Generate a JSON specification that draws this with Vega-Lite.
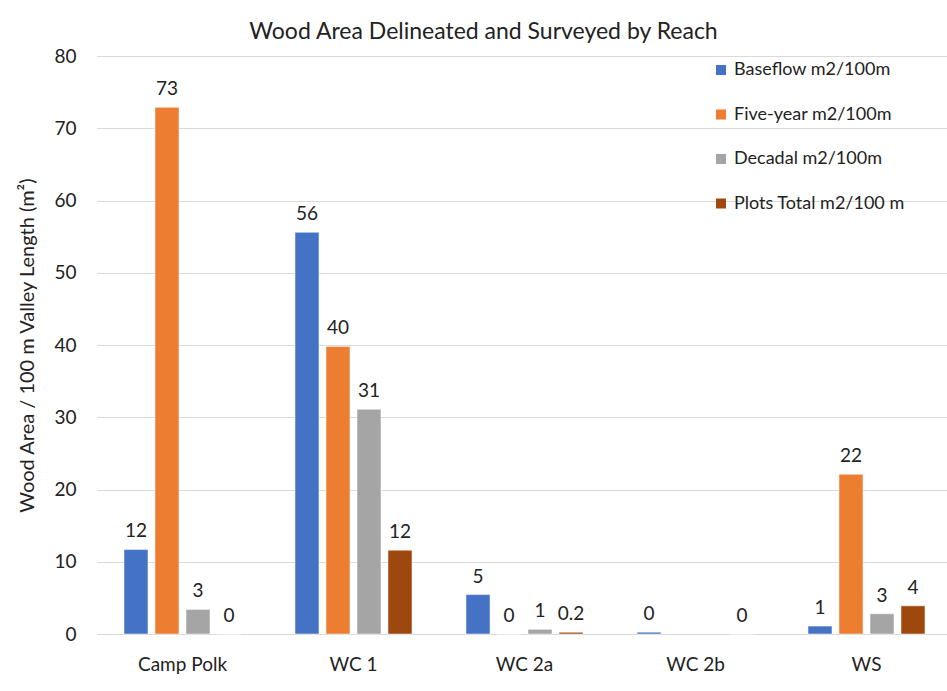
{
  "$schema": "https://vega.github.io/schema/vega-lite/v6.json",
  "autosize": {"type": "none"},
  "width": 855,
  "height": 578,
  "padding": {"left": 97, "top": 56, "right": 0, "bottom": 57},
  "background": "white",
  "title": {
    "text": "Wood Area Delineated and Surveyed by Reach",
    "anchor": "middle",
    "frame": "group",
    "dx": -41,
    "offset": 3,
    "font": "Lato",
    "fontSize": 23,
    "fontWeight": "normal",
    "color": "#222222"
  },
  "data": {
    "values": [
      {"reach": "Camp Polk", "series": "Baseflow m2/100m", "value": 11.7, "label": "12"},
      {"reach": "Camp Polk", "series": "Five-year m2/100m", "value": 72.9, "label": "73"},
      {"reach": "Camp Polk", "series": "Decadal m2/100m", "value": 3.4, "label": "3"},
      {"reach": "Camp Polk", "series": "Plots Total m2/100 m", "value": 0, "label": "0"},
      {"reach": "WC 1", "series": "Baseflow m2/100m", "value": 55.6, "label": "56"},
      {"reach": "WC 1", "series": "Five-year m2/100m", "value": 39.8, "label": "40"},
      {"reach": "WC 1", "series": "Decadal m2/100m", "value": 31.1, "label": "31"},
      {"reach": "WC 1", "series": "Plots Total m2/100 m", "value": 11.6, "label": "12"},
      {"reach": "WC 2a", "series": "Baseflow m2/100m", "value": 5.45, "label": "5"},
      {"reach": "WC 2a", "series": "Five-year m2/100m", "value": 0, "label": "0"},
      {"reach": "WC 2a", "series": "Decadal m2/100m", "value": 0.65, "label": "1"},
      {"reach": "WC 2a", "series": "Plots Total m2/100 m", "value": 0.24, "label": "0.2"},
      {"reach": "WC 2b", "series": "Baseflow m2/100m", "value": 0.25, "label": "0"},
      {"reach": "WC 2b", "series": "Plots Total m2/100 m", "value": 0, "label": "0"},
      {"reach": "WS", "series": "Baseflow m2/100m", "value": 1.1, "label": "1"},
      {"reach": "WS", "series": "Five-year m2/100m", "value": 22.1, "label": "22"},
      {"reach": "WS", "series": "Decadal m2/100m", "value": 2.8, "label": "3"},
      {"reach": "WS", "series": "Plots Total m2/100 m", "value": 3.9, "label": "4"}
    ]
  },
  "encoding": {
    "x": {
      "field": "reach",
      "type": "nominal",
      "sort": ["Camp Polk", "WC 1", "WC 2a", "WC 2b", "WS"],
      "scale": {"paddingInner": 0.2749, "paddingOuter": 0.1374},
      "axis": {
        "title": null,
        "labelAngle": 0,
        "ticks": false,
        "domain": true,
        "domainColor": "#d9d9d9",
        "labelPadding": 21,
        "labelFontSize": 19,
        "labelColor": "#222222",
        "labelFont": "Lato"
      }
    },
    "xOffset": {
      "field": "series",
      "type": "nominal",
      "sort": ["Baseflow m2/100m", "Five-year m2/100m", "Decadal m2/100m", "Plots Total m2/100 m"],
      "scale": {"paddingInner": 0.2258, "paddingOuter": 0.1129}
    },
    "y": {
      "field": "value",
      "type": "quantitative",
      "scale": {"domain": [0, 80], "nice": false},
      "axis": {
        "title": "Wood Area / 100 m Valley Length (m²)",
        "values": [0, 10, 20, 30, 40, 50, 60, 70, 80],
        "labelOverlap": false,
        "ticks": false,
        "domain": false,
        "grid": true,
        "gridColor": "#d9d9d9",
        "labelPadding": 21,
        "labelFontSize": 19,
        "labelColor": "#222222",
        "labelFont": "Lato",
        "titleFont": "Lato",
        "titleFontSize": 20,
        "titleFontWeight": "normal",
        "titleColor": "#222222",
        "titlePadding": 16
      }
    }
  },
  "layer": [
    {
      "mark": {"type": "bar", "stroke": "white", "strokeWidth": 0.5},
      "encoding": {
        "color": {
          "field": "series",
          "type": "nominal",
          "scale": {
            "domain": ["Baseflow m2/100m", "Five-year m2/100m", "Decadal m2/100m", "Plots Total m2/100 m"],
            "range": ["#4472C4", "#ED7D31", "#A5A5A5", "#9E480E"]
          },
          "legend": {
            "title": null,
            "orient": "none",
            "legendX": 615,
            "legendY": 5,
            "padding": 0,
            "symbolType": "square",
            "symbolSize": 100,
            "symbolStrokeWidth": 0,
            "labelFontSize": 18,
            "labelFont": "Lato",
            "labelColor": "#222222",
            "labelOffset": 4,
            "rowPadding": 26.5,
            "labelLimit": 300
          }
        }
      }
    },
    {
      "mark": {
        "type": "text",
        "baseline": "alphabetic",
        "dy": -12,
        "font": "Lato",
        "fontSize": 19,
        "color": "#222222"
      },
      "encoding": {
        "text": {"field": "label", "type": "nominal"}
      }
    }
  ],
  "config": {
    "view": {"stroke": null}
  }
}
